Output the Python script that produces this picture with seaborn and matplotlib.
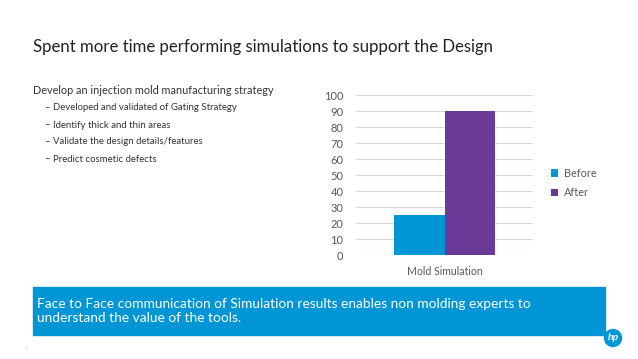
import matplotlib
matplotlib.use("Agg")
import matplotlib.pyplot as plt
from matplotlib.patches import Rectangle, Ellipse
import pandas as pd
import seaborn as sns

categories = ["Mold Simulation"]
periods = ["Before", "After"]
values = [25, 90]

title = "Spent more time performing simulations to support the Design"
bullet = "Develop an injection mold manufacturing strategy"
sub_bullets = [
    "Developed and validated of Gating Strategy",
    "Identify thick and thin areas",
    "Validate the design details/features",
    "Predict cosmetic defects",
]
banner = ("Face to Face communication of Simulation results enables non molding experts to\n"
          "understand the value of the tools.")

blue = "#0096D6"
purple = "#6B3A98"
grey = "#595959"

sns.set_theme(style="white")
plt.rcParams["font.family"] = ["Lato", "DejaVu Sans"]

W, H = 638, 359
fig = plt.figure(figsize=(W / 100, H / 100), dpi=100)


def fx(x):
    return x / W


def fy(y):
    return 1 - y / H


df = pd.DataFrame({
    "category": categories * len(periods),
    "period": periods,
    "value": values,
})

ax = fig.add_axes([fx(356), fy(255), fx(533) - fx(356), fy(95) - fy(255)])
sns.barplot(data=df, x="category", y="value", hue="period",
            palette=[blue, purple], width=0.57, ax=ax, saturation=1,
            edgecolor="none")
ax.set_ylim(0, 100)
ax.set_yticks(range(0, 101, 10))
ax.set_xlim(-0.5, 0.5)
ax.yaxis.grid(True, color="#D9D9D9", linewidth=0.8)
ax.set_axisbelow(True)
for s in ax.spines.values():
    s.set_visible(False)
ax.set(xlabel="", ylabel="")
ax.tick_params(axis="both", length=0, labelsize=8, labelcolor=grey)
ax.tick_params(axis="x", pad=8, labelsize=7.6)
ax.tick_params(axis="y", pad=9)

leg = ax.legend(loc="center left", bbox_to_anchor=(fx(541), fy(183)),
                bbox_transform=fig.transFigure, frameon=False,
                fontsize=7.8, handlelength=0.7, handleheight=0.7,
                handletextpad=0.5, labelspacing=0.8)
for t in leg.get_texts():
    t.set_color(grey)

fig.text(fx(33), fy(47), title, fontsize=12.1, color="#222222", va="center")
fig.text(fx(33), fy(91), bullet, fontsize=7.8, color="#333333", va="center")
for i, s in enumerate(sub_bullets):
    y = 108 + i * 17
    fig.text(fx(44), fy(y), "\u2013", fontsize=6.9, color="#333333", va="center")
    fig.text(fx(53), fy(y), s, fontsize=6.9, color="#333333", va="center")

fig.patches.append(Rectangle((fx(33), fy(335)), fx(605) - fx(33), fy(287) - fy(335),
                             transform=fig.transFigure, color=blue, zorder=0))
fig.text(fx(37), fy(311), banner, fontsize=9.95, color="white", va="center",
         linespacing=1.15)

fig.patches.append(Ellipse((fx(613), fy(338)), 17 / W, 17 / H,
                           transform=fig.transFigure, color=blue))
fig.text(fx(613), fy(338), "hp", fontsize=7.5, color="white", ha="center",
         va="center", fontweight="bold", fontstyle="italic")
fig.text(fx(25), fy(348), "6", fontsize=4, color="#DDDDDD", va="center")

fig.savefig("out.png", dpi=100)
